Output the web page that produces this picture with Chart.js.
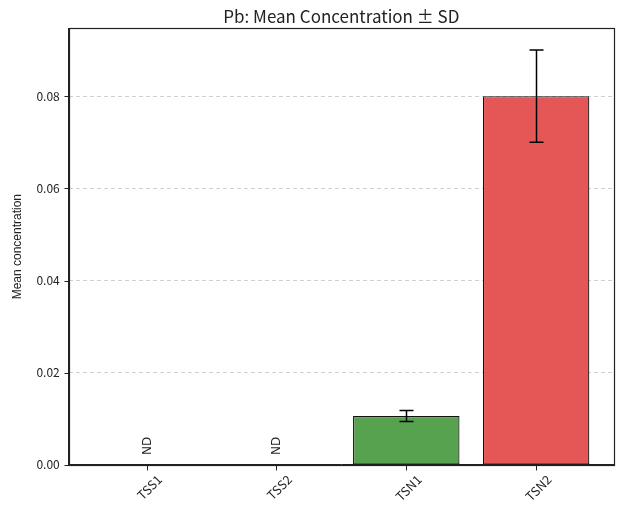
<!DOCTYPE html>
<html>
<head>
<meta charset="utf-8">
<script src="https://cdn.jsdelivr.net/npm/chart.js@4.4.1/dist/chart.umd.min.js"></script>
<style>
  html, body { margin: 0; padding: 0; background: #fff; }
  #wrap { width: 621px; height: 518px; }
</style>
</head>
<body>
<div id="wrap"><canvas id="myChart" width="621" height="518"></canvas></div>
<script>
// data
const categories = ["TSS1", "TSS2", "TSN1", "TSN2"];
const means = [0, 0, 0.0106, 0.08];
const sds = [null, null, 0.0012, 0.01];
const notDetected = [true, true, false, false];
const yTicks = [0, 0.02, 0.04, 0.06, 0.08];

const barColors = ["#9e9e9e", "#9e9e9e", "#57a24e", "#e45756"];
const fontFamily = "'Noto Sans CJK SC', 'Noto Sans', sans-serif";

const ctx = document.querySelector("#myChart").getContext("2d");

// box around the plot plus outward tick marks, like matplotlib
const framePlugin = {
  id: "frame",
  afterDraw(chart) {
    const { ctx, chartArea } = chart;
    const left = Math.round(chartArea.left) + 0.5;
    const top = Math.round(chartArea.top) + 0.5;
    const bottom = Math.round(chartArea.bottom) + 0.5;
    ctx.save();
    ctx.strokeStyle = "#222";
    ctx.lineWidth = 1.2;
    ctx.strokeRect(left, top,
      Math.round(chartArea.right - chartArea.left), Math.round(chartArea.bottom - chartArea.top));
    ctx.lineWidth = 1;
    ctx.beginPath();
    for (let i = 0; i < categories.length; i++) {
      const x = Math.round(chart.scales.x.getPixelForValue(i)) + 0.5;
      ctx.moveTo(x, bottom);
      ctx.lineTo(x, bottom + 5);
    }
    for (const v of yTicks) {
      const y = Math.round(chart.scales.y.getPixelForValue(v)) + 0.5;
      ctx.moveTo(left - 5, y);
      ctx.lineTo(left, y);
    }
    ctx.stroke();
    ctx.restore();
  },
};

// error bars and ND labels
const errorBarPlugin = {
  id: "errorBars",
  afterDatasetsDraw(chart) {
    const { ctx } = chart;
    const xs = chart.scales.x;
    const ys = chart.scales.y;
    ctx.save();
    ctx.strokeStyle = "#000";
    ctx.lineWidth = 1.5;
    for (let i = 0; i < categories.length; i++) {
      const x = Math.round(xs.getPixelForValue(i)) + 0.5;
      if (sds[i] !== null) {
        const yTop = ys.getPixelForValue(means[i] + sds[i]);
        const yBot = ys.getPixelForValue(means[i] - sds[i]);
        ctx.beginPath();
        ctx.moveTo(x, yTop);
        ctx.lineTo(x, yBot);
        ctx.moveTo(x - 7, yTop);
        ctx.lineTo(x + 7, yTop);
        ctx.moveTo(x - 7, yBot);
        ctx.lineTo(x + 7, yBot);
        ctx.stroke();
      }
      if (notDetected[i]) {
        const y = ys.getPixelForValue(0);
        ctx.save();
        ctx.translate(x, y - 19);
        ctx.rotate(-Math.PI / 2);
        ctx.fillStyle = "#222";
        ctx.font = "12px 'DejaVu Sans', sans-serif";
        ctx.textAlign = "center";
        ctx.textBaseline = "middle";
        ctx.fillText("ND", 0, 0);
        ctx.restore();
      }
    }
    ctx.restore();
  },
};

const barChart = {
  type: "bar",
  data: {
    datasets: [
      {
        label: "Mean concentration",
        data: means.map((v, i) => ({ x: i, y: v })),
        backgroundColor: barColors,
        borderColor: "#111",
        borderWidth: 1.2,
        borderSkipped: false,
        categoryPercentage: 1.0,
        barPercentage: 0.82,
      },
    ],
  },
  options: {
    responsive: false,
    animation: false,
    layout: { padding: { left: 10, right: 7, top: 0, bottom: 12 } },
    plugins: {
      legend: { display: false },
      tooltip: { enabled: false },
      title: {
        display: true,
        fullSize: false,
        text: "Pb: Mean Concentration ± SD",
        color: "#222",
        font: { family: fontFamily, size: 17, weight: "normal" },
        padding: { top: 6, bottom: 2 },
      },
    },
    scales: {
      x: {
        type: "linear",
        min: -0.6,
        max: 3.6,
        offset: false,
        afterBuildTicks(scale) {
          scale.ticks = categories.map((c, i) => ({ value: i }));
        },
        ticks: {
          callback: (v) => categories[v],
          maxRotation: 45,
          minRotation: 45,
          labelOffset: 13,
          padding: 2,
          color: "#222",
          font: { family: fontFamily, size: 12.5 },
        },
        grid: {
          offset: false,
          drawOnChartArea: false,
          drawTicks: true,
          tickLength: 5,
          tickColor: "rgba(0,0,0,0)",
        },
        border: { color: "#222", width: 1 },
      },
      y: {
        min: 0,
        max: 0.0947,
        afterBuildTicks(scale) {
          scale.ticks = yTicks.map((v) => ({ value: v }));
        },
        ticks: {
          callback: (v) => v.toFixed(2),
          color: "#222",
          padding: 4,
          font: { family: fontFamily, size: 12 },
        },
        grid: {
          color: (c) => (c.tick && c.tick.value === 0 ? "rgba(0,0,0,0)" : "#d0d0d0"),
          tickLength: 5,
          tickColor: "rgba(0,0,0,0)",
        },
        border: { color: "#222", width: 1, dash: [4, 3] },
        title: {
          display: true,
          text: "Mean concentration",
          color: "#222",
          font: { family: "'Liberation Sans', Arial, sans-serif", size: 12 },
          padding: { top: 0, bottom: 8 },
        },
      },
    },
  },
  plugins: [framePlugin, errorBarPlugin],
};

const resultsChart = new Chart(ctx, barChart);
</script>
</body>
</html>
